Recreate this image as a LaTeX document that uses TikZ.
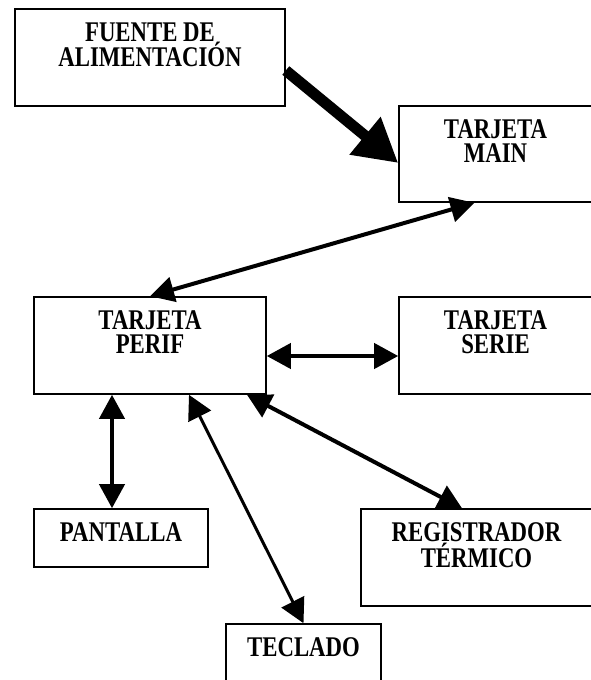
\documentclass[tikz,border=0pt]{standalone}
\usepackage{fontspec}
\usetikzlibrary{arrows.meta}
\newfontfamily\rotulofont{Liberation Serif}[FakeStretch=0.8]

\tikzset{
  caja/.style={draw, line width=1.6pt, inner sep=0pt},
  rotulo/.style={anchor=north, yshift=-14pt, inner sep=0pt, align=center,
    font=\rotulofont\bfseries\fontsize{28.5}{24}\selectfont},
  flecha/.style={line width=4pt, {Triangle[length=24pt,width=25pt]}-{Triangle[length=24pt,width=25pt]}},
  gruesa/.style={line width=11pt, -{Triangle[length=43pt,width=46pt]}}
}

\begin{document}
\begin{tikzpicture}[x=1pt,y=-1pt]
    \useasboundingbox (0,0) rectangle (590,680);

    \node [caja, minimum width=270pt, minimum height=97pt,
      label={[rotulo]north:FUENTE DE\\ALIMENTACIÓN}] (fuente) at (150,57.5) {};
    \node [caja, minimum width=193pt, minimum height=96pt,
      label={[rotulo]north:TARJETA\\MAIN}] (main) at (495.5,154) {};
    \node [caja, minimum width=232pt, minimum height=97pt,
      label={[rotulo]north:TARJETA\\PERIF}] (perif) at (150,345.5) {};
    \node [caja, minimum width=193pt, minimum height=97pt,
      label={[rotulo]north:TARJETA\\SERIE}] (serie) at (495.5,345.5) {};
    \node [caja, minimum width=174pt, minimum height=58pt,
      label={[rotulo]north:PANTALLA}] (pantalla) at (121,538) {};
    \node [caja, minimum width=231pt, minimum height=97pt,
      label={[rotulo]north:REGISTRADOR\\TÉRMICO}] (registrador) at (476.5,557.5) {};
    \node [caja, minimum width=155pt, minimum height=97pt,
      label={[rotulo]north:TECLADO}] (teclado) at (303.5,672.5) {};

    \draw [gruesa] ([yshift=-13pt]fuente.east) -- ([yshift=-9pt]main.west);
    \draw [flecha] ([xshift=-21pt]main.south) -- (perif.north);
    \draw [flecha] ([yshift=-10.5pt]perif.east) -- ([yshift=-10.5pt]serie.west);
    \draw [flecha] ([xshift=-9pt]pantalla.north |- perif.south) -- ([xshift=-9pt]pantalla.north);
    \draw [flecha, line width=3pt] ([xshift=39pt]perif.south) -- (teclado.north);
    \draw [flecha] ([xshift=97pt]perif.south) -- ([xshift=-14.5pt]registrador.north);
\end{tikzpicture}
\end{document}
